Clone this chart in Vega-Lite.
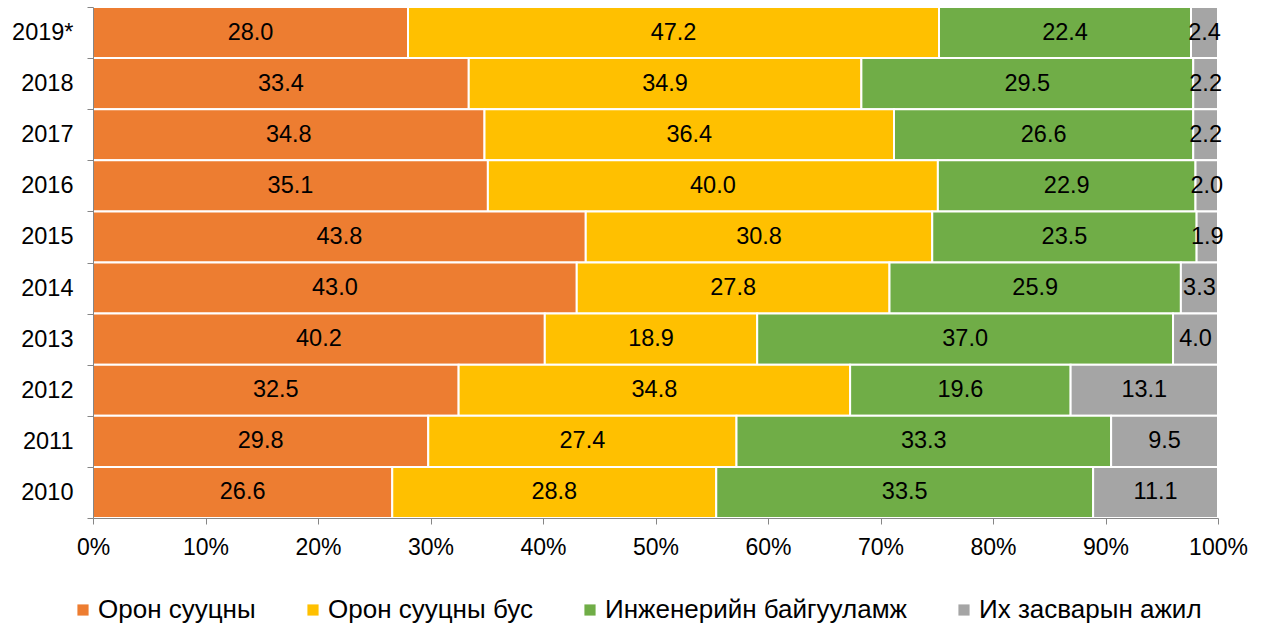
{
  "$schema": "https://vega.github.io/schema/vega-lite/v6.json",
  "width": 1125,
  "height": 511,
  "autosize": {"type": "none"},
  "padding": {"left": 93, "top": 7, "right": 47, "bottom": 108},
  "background": "white",
  "config": {"font": "Liberation Sans", "view": {"stroke": null}},
  "data": {"values": [
    {"year": "2019*", "cat": "Орон сууцны", "k": 1, "value": 28.0},
    {"year": "2019*", "cat": "Орон сууцны бус", "k": 2, "value": 47.2},
    {"year": "2019*", "cat": "Инженерийн байгууламж", "k": 3, "value": 22.4},
    {"year": "2019*", "cat": "Их засварын ажил", "k": 4, "value": 2.4},
    {"year": "2018", "cat": "Орон сууцны", "k": 1, "value": 33.4},
    {"year": "2018", "cat": "Орон сууцны бус", "k": 2, "value": 34.9},
    {"year": "2018", "cat": "Инженерийн байгууламж", "k": 3, "value": 29.5},
    {"year": "2018", "cat": "Их засварын ажил", "k": 4, "value": 2.2},
    {"year": "2017", "cat": "Орон сууцны", "k": 1, "value": 34.8},
    {"year": "2017", "cat": "Орон сууцны бус", "k": 2, "value": 36.4},
    {"year": "2017", "cat": "Инженерийн байгууламж", "k": 3, "value": 26.6},
    {"year": "2017", "cat": "Их засварын ажил", "k": 4, "value": 2.2},
    {"year": "2016", "cat": "Орон сууцны", "k": 1, "value": 35.1},
    {"year": "2016", "cat": "Орон сууцны бус", "k": 2, "value": 40.0},
    {"year": "2016", "cat": "Инженерийн байгууламж", "k": 3, "value": 22.9},
    {"year": "2016", "cat": "Их засварын ажил", "k": 4, "value": 2.0},
    {"year": "2015", "cat": "Орон сууцны", "k": 1, "value": 43.8},
    {"year": "2015", "cat": "Орон сууцны бус", "k": 2, "value": 30.8},
    {"year": "2015", "cat": "Инженерийн байгууламж", "k": 3, "value": 23.5},
    {"year": "2015", "cat": "Их засварын ажил", "k": 4, "value": 1.9},
    {"year": "2014", "cat": "Орон сууцны", "k": 1, "value": 43.0},
    {"year": "2014", "cat": "Орон сууцны бус", "k": 2, "value": 27.8},
    {"year": "2014", "cat": "Инженерийн байгууламж", "k": 3, "value": 25.9},
    {"year": "2014", "cat": "Их засварын ажил", "k": 4, "value": 3.3},
    {"year": "2013", "cat": "Орон сууцны", "k": 1, "value": 40.2},
    {"year": "2013", "cat": "Орон сууцны бус", "k": 2, "value": 18.9},
    {"year": "2013", "cat": "Инженерийн байгууламж", "k": 3, "value": 37.0},
    {"year": "2013", "cat": "Их засварын ажил", "k": 4, "value": 4.0},
    {"year": "2012", "cat": "Орон сууцны", "k": 1, "value": 32.5},
    {"year": "2012", "cat": "Орон сууцны бус", "k": 2, "value": 34.8},
    {"year": "2012", "cat": "Инженерийн байгууламж", "k": 3, "value": 19.6},
    {"year": "2012", "cat": "Их засварын ажил", "k": 4, "value": 13.1},
    {"year": "2011", "cat": "Орон сууцны", "k": 1, "value": 29.8},
    {"year": "2011", "cat": "Орон сууцны бус", "k": 2, "value": 27.4},
    {"year": "2011", "cat": "Инженерийн байгууламж", "k": 3, "value": 33.3},
    {"year": "2011", "cat": "Их засварын ажил", "k": 4, "value": 9.5},
    {"year": "2010", "cat": "Орон сууцны", "k": 1, "value": 26.6},
    {"year": "2010", "cat": "Орон сууцны бус", "k": 2, "value": 28.8},
    {"year": "2010", "cat": "Инженерийн байгууламж", "k": 3, "value": 33.5},
    {"year": "2010", "cat": "Их засварын ажил", "k": 4, "value": 11.1}
  ]},
  "encoding": {
    "y": {
      "field": "year", "type": "nominal", "title": null,
      "sort": ["2019*", "2018", "2017", "2016", "2015", "2014", "2013", "2012", "2011", "2010"],
      "scale": {"paddingInner": 0, "paddingOuter": 0},
      "axis": {"tickBand": "extent", "labelFontSize": 23.5, "labelPadding": 14, "tickSize": 6, "domainColor": "#868686", "tickColor": "#868686", "labelColor": "black", "zindex": 1}
    },
    "order": {"field": "k", "type": "quantitative"}
  },
  "layer": [
    {
      "mark": {"type": "bar", "stroke": "white", "strokeWidth": 2},
      "encoding": {
        "x": {"field": "value", "type": "quantitative", "stack": "normalize", "title": null,
          "scale": {"domain": [0, 1]},
          "axis": {"values": [0, 0.1, 0.2, 0.3, 0.4, 0.5, 0.6, 0.7, 0.8, 0.9, 1], "format": ".0%", "labelFontSize": 23, "labelPadding": 12, "tickSize": 6, "domainColor": "#868686", "tickColor": "#868686", "labelColor": "black", "grid": false, "labelFlush": false, "zindex": 1}},
        "color": {
          "field": "cat", "type": "nominal",
          "scale": {"domain": ["Орон сууцны", "Орон сууцны бус", "Инженерийн байгууламж", "Их засварын ажил"], "range": ["#ED7D31", "#FFC000", "#70AD47", "#A5A5A5"]},
          "legend": {"orient": "none", "legendX": -23, "legendY": 590, "padding": 0, "direction": "horizontal", "title": null, "symbolType": "square", "symbolSize": 125, "symbolStrokeWidth": 0, "labelFontSize": 26, "labelLimit": 0, "labelColor": "black", "columnPadding": 44, "labelOffset": 2}
        }
      }
    },
    {
      "mark": {"type": "text", "fontSize": 23.5, "color": "black"},
      "encoding": {
        "x": {"field": "value", "type": "quantitative", "stack": "normalize", "bandPosition": 0.5, "title": null,
          "scale": {"domain": [0, 1]},
          "axis": {"values": [0, 0.1, 0.2, 0.3, 0.4, 0.5, 0.6, 0.7, 0.8, 0.9, 1], "format": ".0%", "labelFontSize": 23, "labelPadding": 12, "tickSize": 6, "domainColor": "#868686", "tickColor": "#868686", "labelColor": "black", "grid": false, "labelFlush": false, "zindex": 1}},
        "detail": {"field": "cat"},
        "text": {"field": "value", "type": "quantitative", "format": ".1f"}
      }
    }
  ]
}
